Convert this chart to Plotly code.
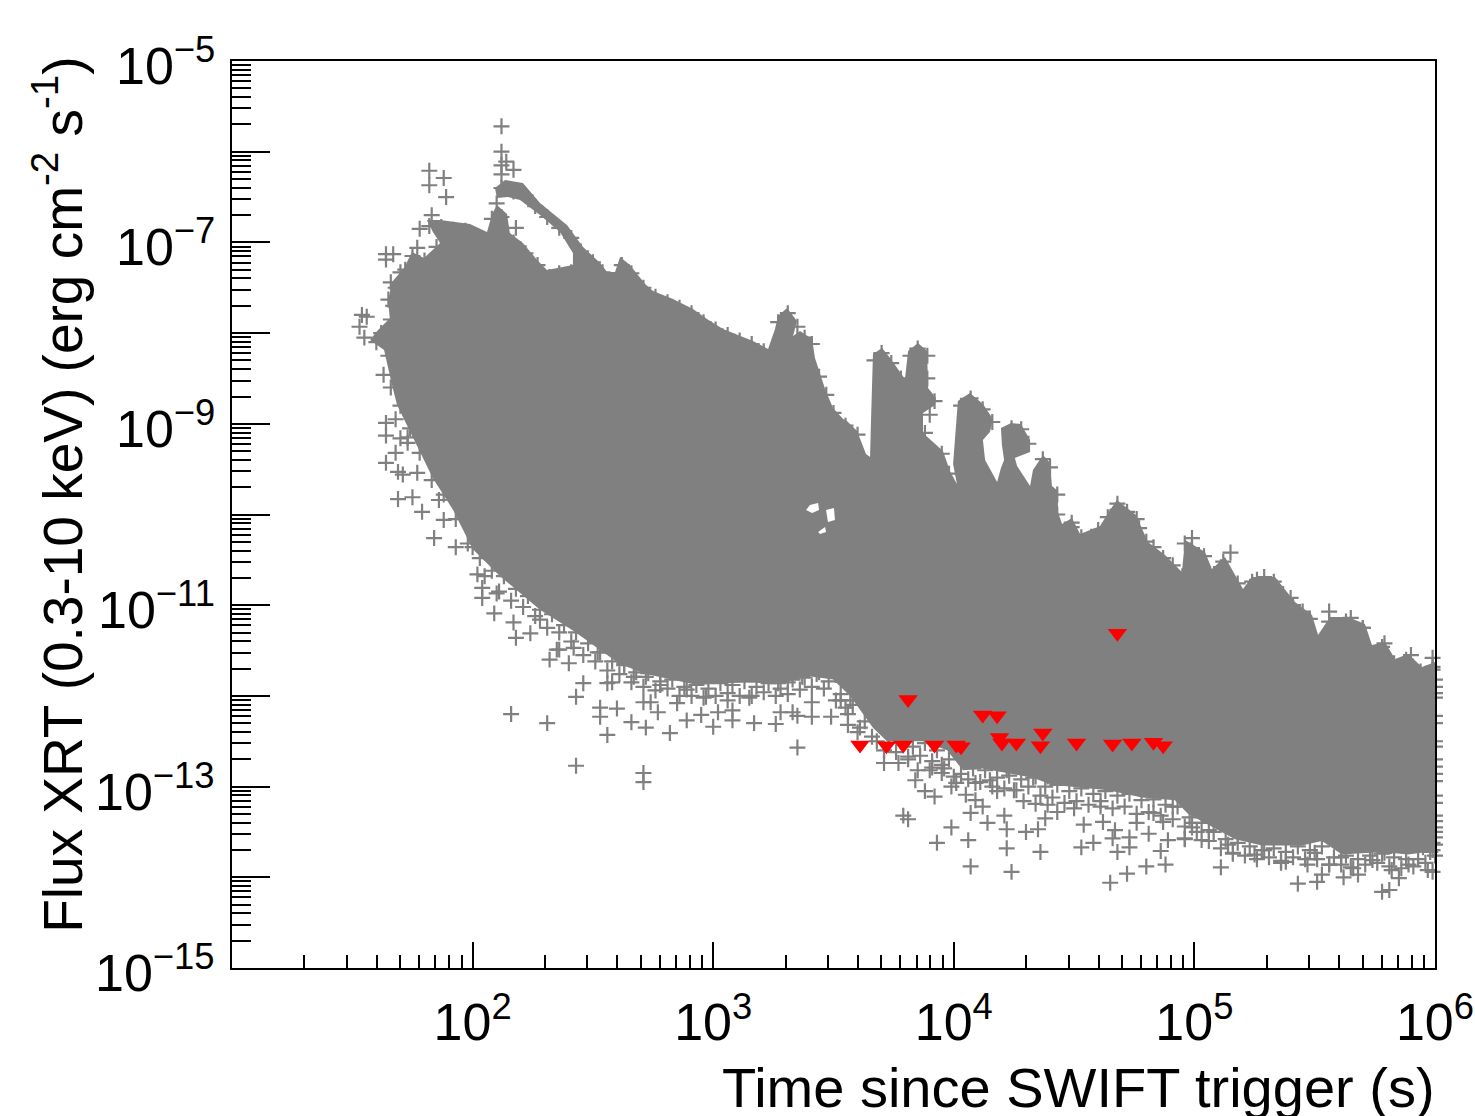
import plotly.graph_objects as go

# log10 of time (s) and flux
cloud_log_t = [1.810,1.865,1.989,2.060,2.081,2.101,2.143,2.155,2.209,2.268,2.309,2.417,2.417,2.363,2.280,2.197,2.147,2.101,2.093,2.135,2.209,2.280,2.392,2.459,2.530,2.559,2.592,2.613,2.654,2.717,2.750,2.833,2.916,2.974,3.041,3.111,3.165,3.228,3.257,3.269,3.307,3.348,3.332,3.361,3.411,3.423,3.444,3.465,3.498,3.540,3.556,3.598,3.635,3.652,3.656,3.664,3.702,3.735,3.797,3.810,3.851,3.889,3.893,3.926,3.922,3.872,3.872,3.955,3.984,4.013,3.997,4.017,4.067,4.121,4.163,4.150,4.121,4.130,4.180,4.196,4.209,4.200,4.196,4.238,4.279,4.317,4.317,4.254,4.263,4.296,4.317,4.329,4.371,4.400,4.408,4.433,4.433,4.450,4.491,4.525,4.608,4.641,4.678,4.720,4.757,4.807,4.878,4.948,4.961,5.044,5.073,5.127,5.181,5.202,5.239,5.335,5.418,5.489,5.514,5.564,5.638,5.709,5.738,5.792,5.834,5.888,5.946,6.000,6.025,6.025,5.888,5.780,5.613,5.530,5.447,5.281,5.169,4.973,4.919,4.782,4.641,4.462,4.408,4.325,4.117,4.038,3.972,3.872,3.722,3.664,3.569,3.498,3.390,3.278,3.140,2.933,2.725,2.613,2.417,2.280,2.114,2.000,1.919,1.835,1.752,1.686,1.665,1.632,1.574,1.603,1.657,1.648,1.665,1.715,1.748,1.798,1.865,1.835]
cloud_log_flux = [-6.753,-6.753,-6.797,-6.885,-6.687,-6.588,-6.687,-6.896,-7.007,-7.194,-7.304,-7.249,-7.117,-6.885,-6.698,-6.532,-6.499,-6.510,-6.400,-6.312,-6.345,-6.566,-6.808,-7.051,-7.227,-7.326,-7.326,-7.161,-7.249,-7.459,-7.536,-7.624,-7.734,-7.844,-7.955,-8.032,-8.087,-8.175,-7.955,-7.811,-7.723,-7.867,-8.032,-7.977,-8.065,-8.274,-8.451,-8.616,-8.826,-8.947,-8.969,-9.079,-9.333,-9.366,-8.958,-8.230,-8.164,-8.274,-8.506,-8.197,-8.109,-8.197,-8.605,-8.715,-8.793,-8.881,-9.101,-9.300,-9.520,-9.664,-9.443,-8.749,-8.660,-8.782,-8.947,-9.090,-9.178,-9.399,-9.641,-9.487,-9.399,-9.234,-9.046,-8.991,-9.002,-9.178,-9.311,-9.377,-9.465,-9.597,-9.686,-9.509,-9.344,-9.432,-9.686,-9.741,-9.972,-10.105,-10.038,-10.215,-10.127,-9.983,-9.840,-9.928,-10.005,-10.303,-10.446,-10.634,-10.281,-10.413,-10.601,-10.468,-10.711,-10.821,-10.689,-10.689,-10.965,-11.108,-11.328,-11.130,-11.130,-11.207,-11.439,-11.406,-11.593,-11.538,-11.681,-11.626,-11.758,-13.700,-13.750,-13.720,-13.750,-13.600,-13.650,-13.650,-13.580,-13.300,-13.150,-13.120,-13.040,-13.000,-12.980,-12.900,-12.800,-12.820,-12.600,-12.500,-12.500,-12.350,-12.000,-11.820,-11.780,-11.870,-11.850,-11.880,-11.760,-11.650,-11.280,-11.050,-10.680,-10.380,-9.950,-9.600,-9.150,-8.793,-8.572,-8.186,-8.076,-7.977,-7.833,-7.657,-7.437,-7.282,-7.106,-7.172,-7.007,-6.885]

gap_a_log_t = [3.386,3.411,3.440,3.436,3.402]
gap_a_log_flux = [-9.950,-9.983,-9.950,-9.873,-9.895]
gap_b_log_t = [3.469,3.477,3.506,3.502]
gap_b_log_flux = [-9.950,-10.083,-10.060,-9.928]
gap_c_log_t = [3.436,3.444,3.469,3.465]
gap_c_log_flux = [-10.193,-10.215,-10.193,-10.138]

cross_log_t = [2.12,2.12,2.12,2.12,2.17,2.14,1.82,1.88,1.82,1.89,2.10,1.83,2.18,1.64,1.67,1.64,1.70,1.66,1.65,1.54,1.56,1.53,1.77,1.55,1.63,1.64,1.64,1.70,1.64,1.68,1.69,1.71,1.69,1.75,1.79,1.84,1.93,2.02,2.04,2.04,2.09,2.17,2.18,2.24,2.35,2.42,1.73,1.77,1.86,1.88,2.00,2.10,2.28,
2.16,2.31,2.43,2.43,2.46,2.32,2.40,2.36,2.52,2.53,2.53,2.60,2.56,2.56,2.58,2.71,2.74,2.66,2.72,2.82,2.77,2.85,2.89,2.95,3.00,3.08,3.08,3.02,3.17,3.26,3.28,3.33,3.35,3.41,3.41,3.49,3.55,3.56,3.60,3.35,2.71,2.71,3.71,3.77,3.81,3.85,3.84,3.88,3.92,3.79,3.81,3.99,3.93,4.06,4.07,3.95,3.91,3.99,4.07,4.05,4.00,3.57,3.53,3.15,2.97,2.89,2.78,2.67,2.72,2.63,3.06,3.27,3.31,3.37,3.44,3.51,
4.14,4.22,4.24,4.36,4.22,4.21,4.12,3.95,3.90,4.09,4.18,4.25,4.29,4.34,4.30,4.35,4.38,4.39,4.54,4.53,4.58,4.62,4.61,4.67,4.66,4.73,4.68,4.73,4.65,4.72,4.80,4.88,4.86,4.81,4.89,4.96,4.76,4.87,4.50,4.43,4.15,4.22,4.09,4.34,4.39,4.99,4.83,4.91,
5.11,5.25,5.16,5.14,5.36,5.38,5.43,5.51,5.53,5.47,5.56,5.62,5.68,5.65,5.74,5.78,5.81,5.82,5.85,5.89,5.97,5.99,5.99,5.99,5.95,5.79,5.61,5.50,5.29,5.03,4.96,4.99,5.06,5.18,
4.99,4.99,5.00,5.15,5.11,5.29,5.26,5.34,5.40,5.45,5.56,5.65,5.70,5.79,5.90,5.99,5.99,6.00,4.68,4.72,4.77,4.83,4.91,4.49,6.00,6.01,6.01,6.01,6.01,6.01,6.00]
cross_log_flux = [-5.72,-6.00,-6.15,-6.25,-6.20,-6.11,-6.21,-6.29,-6.37,-6.50,-6.57,-6.70,-6.84,-7.13,-7.13,-7.19,-7.33,-7.44,-7.63,-7.80,-7.82,-7.93,-7.06,-8.05,-8.46,-8.99,-9.13,-9.16,-9.43,-9.32,-9.53,-9.56,-9.83,-9.81,-9.97,-10.26,-10.36,-10.66,-10.81,-10.92,-11.09,-11.19,-11.36,-11.31,-11.49,-11.47,-9.21,-9.54,-9.84,-10.06,-10.36,-10.87,-11.16,
-12.20,-12.30,-12.77,-12.01,-11.86,-11.60,-11.64,-11.49,-11.52,-12.13,-12.23,-12.14,-12.43,-11.86,-11.85,-12.07,-12.07,-12.29,-12.35,-12.41,-12.18,-12.08,-12.27,-12.21,-12.34,-12.27,-12.16,-12.18,-12.30,-12.31,-12.18,-12.18,-12.22,-12.07,-12.23,-12.23,-12.13,-12.32,-12.40,-12.57,-12.85,-12.95,-12.74,-12.74,-12.67,-12.82,-12.93,-13.05,-13.11,-13.32,-13.36,-13.45,-13.62,-13.59,-13.88,-12.76,-12.79,-13.00,-13.29,-13.09,-12.89,-12.05,-12.05,-12.02,-12.01,-11.93,-11.88,-11.79,-11.79,-11.64,-11.97,-11.86,-11.85,-11.79,-11.74,-11.77,
-13.40,-13.68,-13.94,-13.72,-13.47,-13.32,-13.22,-12.85,-12.82,-13.15,-13.05,-13.04,-13.16,-13.19,-13.50,-13.47,-13.35,-13.20,-13.42,-13.67,-13.62,-13.39,-13.22,-13.48,-13.57,-13.56,-13.72,-13.67,-14.06,-13.96,-13.88,-13.86,-13.71,-13.52,-13.59,-13.58,-13.40,-13.39,-13.24,-13.28,-12.93,-12.82,-12.96,-12.89,-12.89,-13.40,-13.29,-13.22,
-13.89,-13.75,-13.73,-13.64,-13.84,-13.83,-14.07,-14.05,-13.97,-13.86,-13.86,-14.00,-13.97,-13.89,-13.81,-14.16,-14.14,-13.92,-14.01,-13.86,-13.92,-13.94,-13.70,-13.62,-13.67,-13.73,-13.78,-13.73,-13.70,-13.59,-13.57,-13.45,-13.48,-13.51,
-10.26,-10.37,-10.48,-10.42,-10.58,-10.69,-10.72,-10.80,-10.92,-11.07,-11.07,-11.14,-11.25,-11.42,-11.55,-11.58,-11.71,-11.82,-9.95,-10.01,-10.15,-10.36,-10.56,-10.14,-11.97,-12.12,-12.41,-12.63,-13.04,-13.26,-13.45]

# crosses along the lower rim of the dense cloud
rim_a_log_t = [1.68,1.73,1.78,1.83,1.88,1.93,1.98,2.03,2.08,2.13,2.18,2.23,2.28,2.33,2.38,2.43,2.48,2.53,2.58,2.63,2.68,2.73,2.78,2.83,2.88,2.93,2.98,3.03,3.08,3.13,3.18,3.23,3.28,3.33,3.38,3.43,3.48,3.53,3.58,3.63,3.68,3.73,3.78,3.83,3.88,3.93,3.98,4.03,4.08,4.13,4.18,4.23,4.28,4.33,4.38,4.43,4.48,4.53,4.58,4.63,4.68,4.73,4.78,4.83,4.88,4.93,4.98,5.03,5.08,5.13,5.18,5.23,5.28,5.33,5.38,5.43,5.48,5.53,5.58,5.63,5.68,5.73,5.78,5.83,5.88,5.93,5.98]
rim_a_log_flux = [-8.95,-9.15,-9.32,-9.62,-9.78,-10.05,-10.32,-10.48,-10.62,-10.68,-10.82,-10.90,-11.05,-11.10,-11.22,-11.30,-11.42,-11.52,-11.62,-11.66,-11.74,-11.75,-11.84,-11.82,-11.90,-11.88,-11.92,-11.86,-11.88,-11.84,-11.90,-11.86,-11.92,-11.82,-11.80,-11.76,-11.84,-11.98,-12.10,-12.28,-12.50,-12.52,-12.50,-12.56,-12.52,-12.60,-12.70,-12.86,-12.80,-12.82,-12.90,-12.88,-12.92,-12.90,-13.00,-12.98,-13.05,-13.02,-13.08,-13.05,-13.10,-13.08,-13.15,-13.14,-13.20,-13.22,-13.34,-13.40,-13.50,-13.58,-13.62,-13.66,-13.70,-13.68,-13.72,-13.66,-13.70,-13.66,-13.78,-13.76,-13.80,-13.76,-13.74,-13.78,-13.80,-13.80,-13.72]
rim_b_log_t = [2.05,2.11,2.16,2.21,2.26,2.31,2.36,2.41,2.46,2.51,2.56,2.61,2.66,2.71,2.76,2.81,2.86,2.91,2.96,3.01,3.06,3.11,3.16,3.21,3.26,3.31,3.36,3.41,3.46,3.51,3.56,3.61,3.66,3.71,3.76,3.81,3.86,3.91,3.96,4.01,4.06,4.11,4.16,4.21,4.26,4.31,4.36,4.41,4.46,4.51,4.56,4.61,4.66,4.71,4.76,4.81,4.86,4.91,4.96,5.01,5.06,5.11,5.16,5.21,5.26,5.31,5.36,5.41,5.46,5.51,5.56,5.61,5.66,5.71,5.76,5.81,5.86,5.91,5.96]
rim_b_log_flux = [-10.68,-10.85,-10.95,-11.02,-11.12,-11.25,-11.30,-11.40,-11.55,-11.62,-11.72,-11.76,-11.85,-11.90,-11.94,-11.92,-12.00,-12.00,-12.02,-12.00,-12.05,-12.00,-12.00,-11.96,-12.00,-11.98,-11.93,-11.90,-11.92,-12.05,-12.20,-12.35,-12.45,-12.60,-12.62,-12.70,-12.66,-12.72,-12.80,-12.96,-12.92,-12.95,-13.00,-13.02,-13.04,-13.00,-13.10,-13.12,-13.18,-13.16,-13.20,-13.16,-13.24,-13.22,-13.30,-13.28,-13.32,-13.36,-13.44,-13.50,-13.60,-13.68,-13.74,-13.76,-13.80,-13.78,-13.82,-13.78,-13.80,-13.80,-13.86,-13.86,-13.90,-13.86,-13.84,-13.88,-13.90,-13.88,-13.84]

# crosses along the upper, left and right rim of the dense cloud
top_log_t = [1.78,1.82,1.87,1.92,1.97,2.02,2.08,2.12,2.17,2.22,2.27,2.32,2.36,2.41,2.12,2.17,2.22,2.26,2.31,2.36,2.41,2.45,2.50,2.54,2.60,2.62,2.66,2.71,2.76,2.81,2.86,2.91,2.96,3.01,3.06,3.11,3.16,3.21,3.27,3.31,3.35,3.38,3.41,3.44,3.47,3.50,3.55,3.60,3.67,3.70,3.74,3.78,3.82,3.85,3.89,3.89,3.92,3.90,3.88,3.95,3.98,4.03,4.07,4.12,4.16,4.24,4.28,4.31,4.37,4.40,4.43,4.43,4.49,4.53,4.60,4.64,4.68,4.72,4.76,4.80,4.87,4.95,4.96,5.04,5.12,5.18,5.24,5.33,5.41,5.48,5.56,5.63,5.70,5.78,5.83,5.88,5.94,5.99,1.68,1.67,1.66,1.62,1.60,1.65,1.66,1.70,1.74,1.72,1.75,1.80,1.85,
6.00,6.00,6.00,6.00,6.00,6.00,6.00,6.00,6.00,6.00,6.00,6.00,6.00,6.00,6.00,6.00,6.00,6.00]
top_log_flux = [-6.85,-6.82,-6.83,-6.86,-6.87,-6.94,-6.74,-6.72,-7.00,-7.12,-7.25,-7.38,-7.34,-7.33,-6.40,-6.44,-6.48,-6.60,-6.72,-6.84,-6.95,-7.10,-7.22,-7.33,-7.42,-7.25,-7.34,-7.50,-7.60,-7.66,-7.72,-7.78,-7.88,-7.96,-8.02,-8.08,-8.12,-8.20,-7.88,-7.78,-7.93,-8.05,-8.12,-8.48,-8.68,-8.88,-9.02,-9.12,-8.30,-8.22,-8.33,-8.50,-8.25,-8.17,-8.25,-8.50,-8.75,-8.90,-9.10,-9.33,-9.55,-8.80,-8.72,-8.84,-8.98,-9.05,-9.06,-9.22,-9.39,-9.48,-9.78,-10.00,-10.09,-10.25,-10.17,-10.03,-9.88,-9.97,-10.05,-10.30,-10.48,-10.68,-10.32,-10.46,-10.52,-10.76,-10.74,-10.74,-11.00,-11.15,-11.18,-11.18,-11.25,-11.46,-11.64,-11.60,-11.73,-11.68,-7.50,-7.70,-7.85,-8.00,-8.10,-8.25,-8.60,-8.80,-9.05,-7.30,-7.15,-7.20,-7.05,
-11.90,-12.02,-12.22,-12.30,-12.50,-12.56,-12.70,-12.78,-12.86,-12.94,-13.10,-13.18,-13.32,-13.38,-13.50,-13.56,-13.64,-13.76]

limit_log_t = [3.61,3.72,3.79,3.92,4.01,4.03,3.81,4.68,4.12,4.18,4.19,4.20,4.26,4.37,4.36,4.51,4.66,4.74,4.83,4.87]
limit_log_flux = [-12.54,-12.55,-12.54,-12.54,-12.54,-12.56,-12.04,-11.31,-12.21,-12.22,-12.46,-12.52,-12.52,-12.41,-12.55,-12.52,-12.53,-12.52,-12.51,-12.55]

x_decades = [1, 2, 3, 4, 5, 6]
y_decades = [-5, -6, -7, -8, -9, -10, -11, -12, -13, -14, -15]
x_tick_exponents = ["2", "3", "4", "5", "6"]
y_labelled = {-5: "−5", -7: "−7", -9: "−9", -11: "−11", -13: "−13", -15: "−15"}

GRAY = "#808080"
FONT = "Liberation Sans"


def power(vals):
    return [10.0 ** v for v in vals]


def joined(*parts):
    out = []
    for i, p in enumerate(parts):
        if i:
            out.append(None)
        out.extend(power(p))
    return out


fig = go.Figure()
fig.add_trace(go.Scatter(
    x=joined(cloud_log_t, gap_a_log_t, gap_b_log_t, gap_c_log_t),
    y=joined(cloud_log_flux, gap_a_log_flux, gap_b_log_flux, gap_c_log_flux),
    mode="lines", fill="toself", fillcolor=GRAY, line=dict(width=0, color=GRAY),
    hoverinfo="skip", showlegend=False, cliponaxis=False))
fig.add_trace(go.Scatter(
    x=power(cross_log_t + rim_a_log_t + rim_b_log_t + top_log_t),
    y=power(cross_log_flux + rim_a_log_flux + rim_b_log_flux + top_log_flux),
    mode="markers", showlegend=False, cliponaxis=False,
    marker=dict(symbol="cross-thin", size=11.4, color=GRAY, line=dict(color=GRAY, width=2.2))))
fig.add_trace(go.Scatter(
    x=power(limit_log_t), y=power(limit_log_flux), mode="markers", showlegend=False, cliponaxis=False,
    marker=dict(symbol="triangle-down", size=17, color="#ff0000", line=dict(width=0))))

minor_x = [m * 10.0 ** d for d in x_decades[:-1] for m in range(2, 10)]
minor_y = [m * 10.0 ** d for d in y_decades[1:] for m in range(2, 10)]

fig.update_xaxes(
    type="log", range=[1, 6], showgrid=False, zeroline=False, showline=True, linecolor="black",
    linewidth=2, mirror=True, ticks="inside", ticklen=26, tickwidth=1.5, tickcolor="black",
    tickmode="array", tickvals=[10.0 ** d for d in x_decades[1:]],
    ticktext=[f"10<sup>{e}</sup>" for e in x_tick_exponents], automargin=False,
    tickfont=dict(family=FONT, size=52, color="black"), tickangle=0, ticklabelstandoff=8,
    minor=dict(ticks="inside", ticklen=13, tickwidth=1.5, tickcolor="black", tickmode="array", tickvals=minor_x, showgrid=False))
fig.update_yaxes(
    type="log", range=[-15, -5], showgrid=False, zeroline=False, showline=True, linecolor="black",
    linewidth=2, mirror=True, ticks="inside", ticklen=38, tickwidth=1.5, tickcolor="black",
    tickmode="array", tickvals=[10.0 ** d for d in y_decades], showticklabels=False, automargin=False,
    minor=dict(ticks="inside", ticklen=19, tickwidth=1.5, tickcolor="black", tickmode="array", tickvals=minor_y, showgrid=False))

y_label_notes = [
    dict(text=f"10<sup>{label}</sup>", xref="paper", yref="y", x=-0.0125, y=d, yshift=-1,
         xanchor="right", yanchor="middle", showarrow=False, font=dict(family=FONT, size=52, color="black"))
    for d, label in y_labelled.items()
]

fig.update_layout(
    width=1475, height=1116, autosize=False, paper_bgcolor="white", plot_bgcolor="white",
    margin=dict(l=232, r=40, t=61, b=148, autoexpand=False), showlegend=False, font=dict(family=FONT),
    annotations=y_label_notes + [
        dict(text="Time since SWIFT trigger (s)", xref="paper", yref="paper", x=1.0017, y=-0.0952,
             xanchor="right", yanchor="top", showarrow=False, font=dict(family=FONT, size=56, color="black")),
        dict(text="Flux XRT (0.3-10 keV) (erg cm<sup>-2</sup> s<sup>-1</sup>)", xref="paper", yref="paper",
             x=-0.1445, y=1.007, xanchor="center", yanchor="top", textangle=-90, showarrow=False,
             font=dict(family=FONT, size=55, color="black")),
    ])

fig.write_html("out.html", config=dict(displayModeBar=False),
               post_script="document.body.style.margin='0';document.body.style.overflow='hidden';")
